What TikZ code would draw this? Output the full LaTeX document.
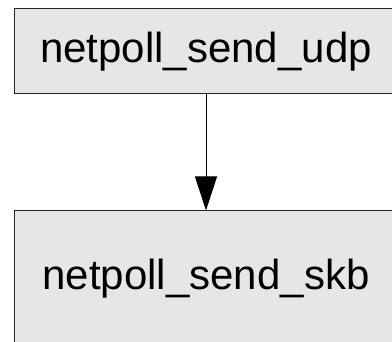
\documentclass[tikz,border=0pt]{standalone}
\usepackage{fontspec}
\setmainfont{Liberation Sans}
\usetikzlibrary{arrows.meta}
\definecolor{boxgray}{HTML}{E6E6E6}
\tikzset{
  funcbox/.style={draw=black!85,fill=boxgray,line width=1pt,minimum width=384pt,
    inner sep=0pt,font=\fontsize{42}{48}\selectfont},
  callarrow/.style={-{Triangle[length=34pt,width=22pt]},line width=1pt}
}
\begin{document}
\begin{tikzpicture}[x=1pt,y=-1pt]
        \useasboundingbox (0,0) rectangle (392,342);
        \clip (0,0) rectangle (392,342);
        \node[funcbox,minimum height=85pt] at (206,51.5) (udp){netpoll\_send\_udp};
        \node[funcbox,minimum height=136pt] at (206,279) (skb){netpoll\_send\_skb};
        \draw[callarrow] (udp) -- (skb);
    \end{tikzpicture}
\end{document}
